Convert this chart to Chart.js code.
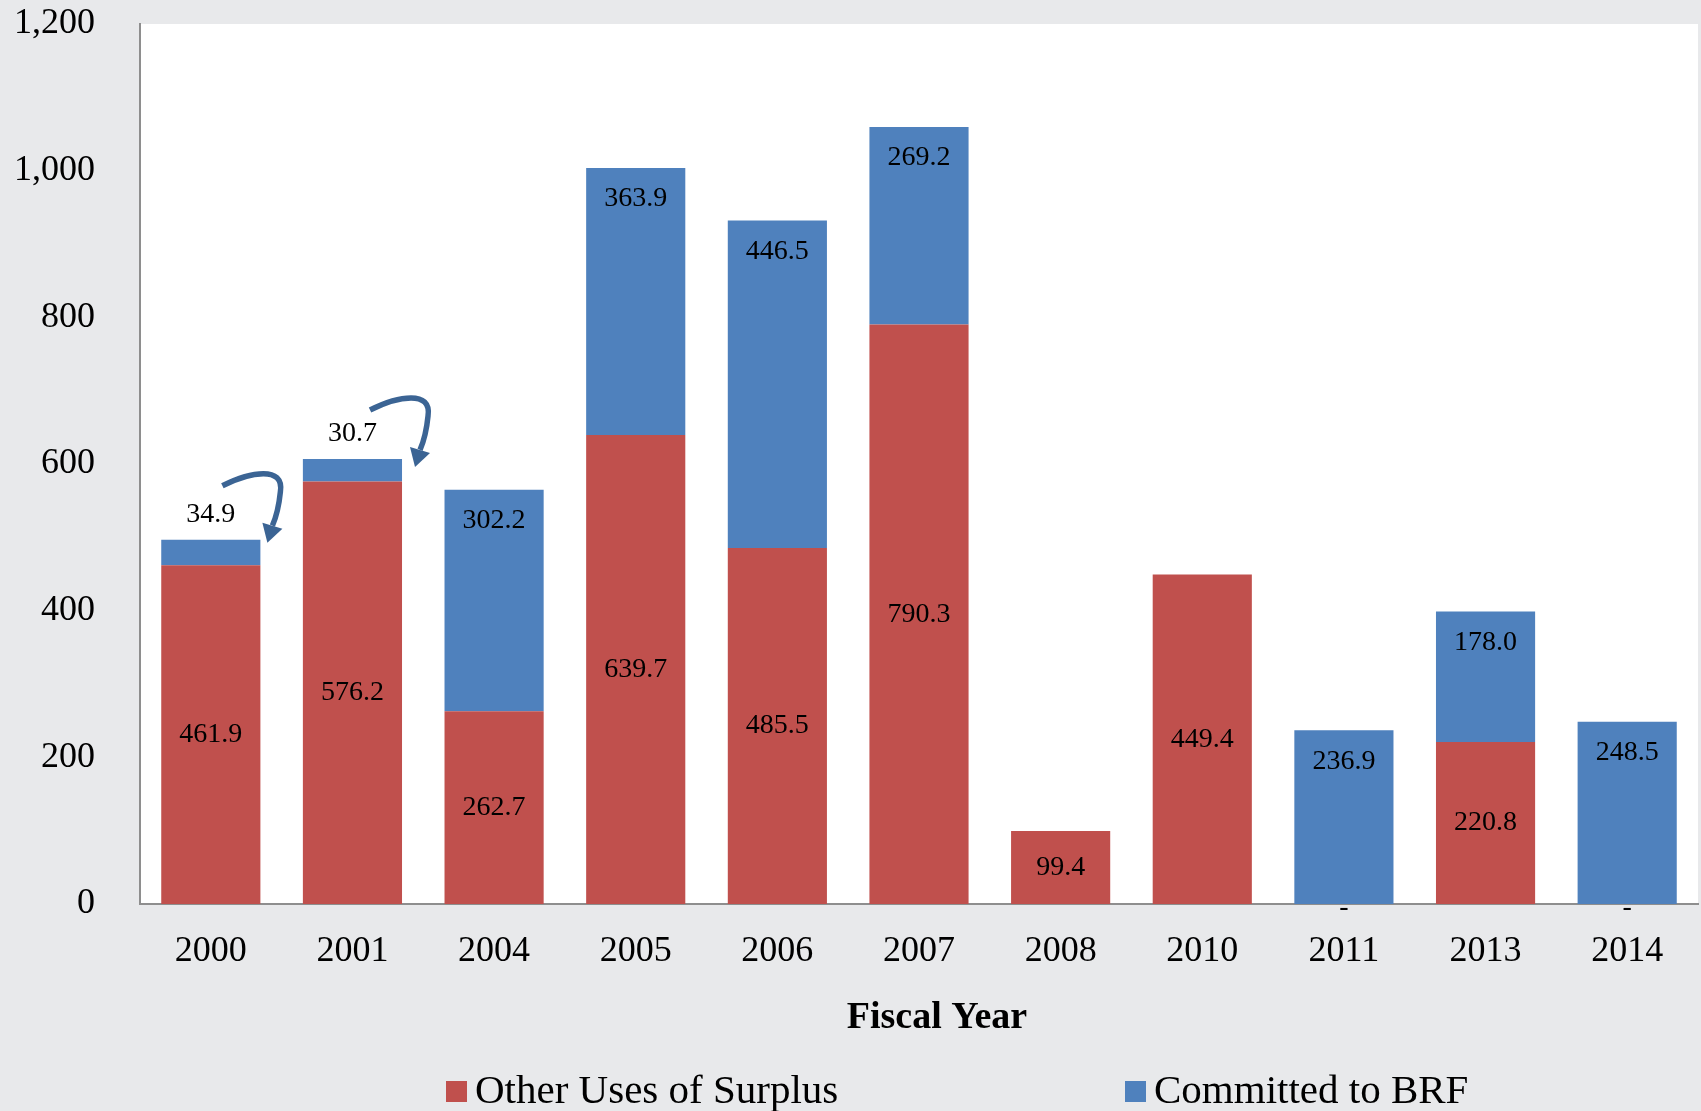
<!DOCTYPE html>
<html>
<head>
<meta charset="utf-8">
<script src="https://cdn.jsdelivr.net/npm/chart.js@4"></script>
<style>
  body { margin: 0; background: #e8e9eb; }
  #wrap { width: 1701px; height: 1111px; position: relative; }
</style>
</head>
<body>
<div id="wrap"><canvas id="chart"></canvas></div>
<script>
const years = ["2000", "2001", "2004", "2005", "2006", "2007", "2008", "2010", "2011", "2013", "2014"];
const otherUses = [461.9, 576.2, 262.7, 639.7, 485.5, 790.3, 99.4, 449.4, 0, 220.8, 0];
const committedBRF = [34.9, 30.7, 302.2, 363.9, 446.5, 269.2, 0, 0, 236.9, 178.0, 248.5];
const seriesNames = ["Other Uses of Surplus", "Committed to BRF"];
const seriesColors = ["#c0504d", "#4f81bd"];
const xTitle = "Fiscal Year";

const SERIF = '"Palatino Linotype", "Book Antiqua", Palatino, "Liberation Serif", serif';
const BG = "#e8e9eb";
const AXIS = "#8e8e8e";
const ARROW = "#3b6494";

// page + plot backgrounds
const bgPlugin = {
  id: "bg",
  beforeDraw(chart) {
    const { ctx, chartArea: a } = chart;
    ctx.save();
    ctx.fillStyle = BG;
    ctx.fillRect(0, 0, chart.width, chart.height);
    ctx.fillStyle = "#ffffff";
    ctx.fillRect(a.left, a.top, a.right - a.left, a.bottom - a.top);
    ctx.restore();
  },
};

// value labels + the two curved arrows
const labelPlugin = {
  id: "labels",
  afterDatasetsDraw(chart) {
    const ctx = chart.ctx;
    ctx.save();
    ctx.font = "28px " + SERIF;
    ctx.fillStyle = "#000";
    ctx.textAlign = "center";
    ctx.textBaseline = "middle";

    chart.getDatasetMeta(0).data.forEach((bar, i) => {
      const v = otherUses[i];
      if (v === 0) ctx.fillText("-", bar.x, bar.base + 4);
      else ctx.fillText(v.toFixed(1), bar.x, (bar.y + bar.base) / 2);
    });

    chart.getDatasetMeta(1).data.forEach((bar, i) => {
      const v = committedBRF[i];
      if (v === 0) return;
      const h = bar.base - bar.y;
      if (h < 40) {
        ctx.fillText(v.toFixed(1), bar.x, bar.y - 25);
        drawArrow(ctx, bar.x + bar.width / 2, bar.y, i);
      } else {
        ctx.fillText(v.toFixed(1), bar.x, bar.y + 31);
      }
    });
    ctx.restore();
  },
};

function drawArrow(ctx, x, y, i) {
  ctx.save();
  // second arrow sits a little lower / further right in the original
  ctx.translate(x + (i === 1 ? 6 : 0), y + (i === 1 ? 5 : 0));
  ctx.strokeStyle = ARROW;
  ctx.fillStyle = ARROW;
  ctx.lineWidth = 5.5;
  ctx.beginPath();
  ctx.moveTo(-38, -54);
  ctx.bezierCurveTo(-10, -68, 24, -74, 20, -48);
  ctx.quadraticCurveTo(18, -28, 12, -14);
  ctx.stroke();
  ctx.beginPath();
  ctx.moveTo(7, 3);
  ctx.lineTo(2, -17);
  ctx.lineTo(22, -11);
  ctx.closePath();
  ctx.fill();
  ctx.restore();
}

// axis title + legend under the x axis
const legendPlugin = {
  id: "customLegend",
  afterDraw(chart) {
    const { ctx, chartArea: a } = chart;
    const cx = (a.left + a.right) / 2;
    ctx.save();
    ctx.fillStyle = "#000";
    ctx.textBaseline = "middle";
    ctx.textAlign = "center";
    ctx.font = "bold 38px " + SERIF;
    ctx.fillText(xTitle, cx + 18, a.bottom + 114);

    const starts = [cx - 473, cx + 206];
    const y = chart.height - 20;
    ctx.font = "41px " + SERIF;
    ctx.textAlign = "left";
    seriesNames.forEach((name, i) => {
      ctx.fillStyle = seriesColors[i];
      ctx.fillRect(starts[i], y - 10, 21, 21);
      ctx.fillStyle = "#000";
      ctx.fillText(name, starts[i] + 29, y + 1);
    });
    ctx.restore();
  },
};

new Chart(document.getElementById("chart"), {
  type: "bar",
  data: {
    labels: years,
    datasets: [
      { label: seriesNames[0], data: otherUses, backgroundColor: seriesColors[0] },
      { label: seriesNames[1], data: committedBRF, backgroundColor: seriesColors[1] },
    ],
  },
  options: {
    responsive: true,
    maintainAspectRatio: false,
    animation: false,
    barPercentage: 0.7,
    categoryPercentage: 1.0,
    layout: { padding: { top: 24, right: 3, bottom: 73, left: 0 } },
    plugins: { legend: { display: false }, tooltip: { enabled: false } },
    scales: {
      x: {
        stacked: true,
        grid: { display: false, drawTicks: false },
        border: { color: AXIS, width: 2 },
        ticks: { color: "#000", font: { family: SERIF, size: 36 }, padding: 26 },
        afterFit(scale) {
          scale.height = 134;
          scale.paddingLeft = 0;
          scale.paddingRight = 0;
        },
      },
      y: {
        stacked: true,
        min: 0,
        max: 1200,
        grid: { display: false, drawTicks: false },
        border: { color: AXIS, width: 2 },
        ticks: { stepSize: 200, color: "#000", font: { family: SERIF, size: 36 }, padding: 45 },
        afterFit(scale) {
          scale.width = 140;
          scale.paddingTop = 0;
          scale.paddingBottom = 0;
        },
      },
    },
  },
  plugins: [bgPlugin, labelPlugin, legendPlugin],
});
</script>
</body>
</html>
